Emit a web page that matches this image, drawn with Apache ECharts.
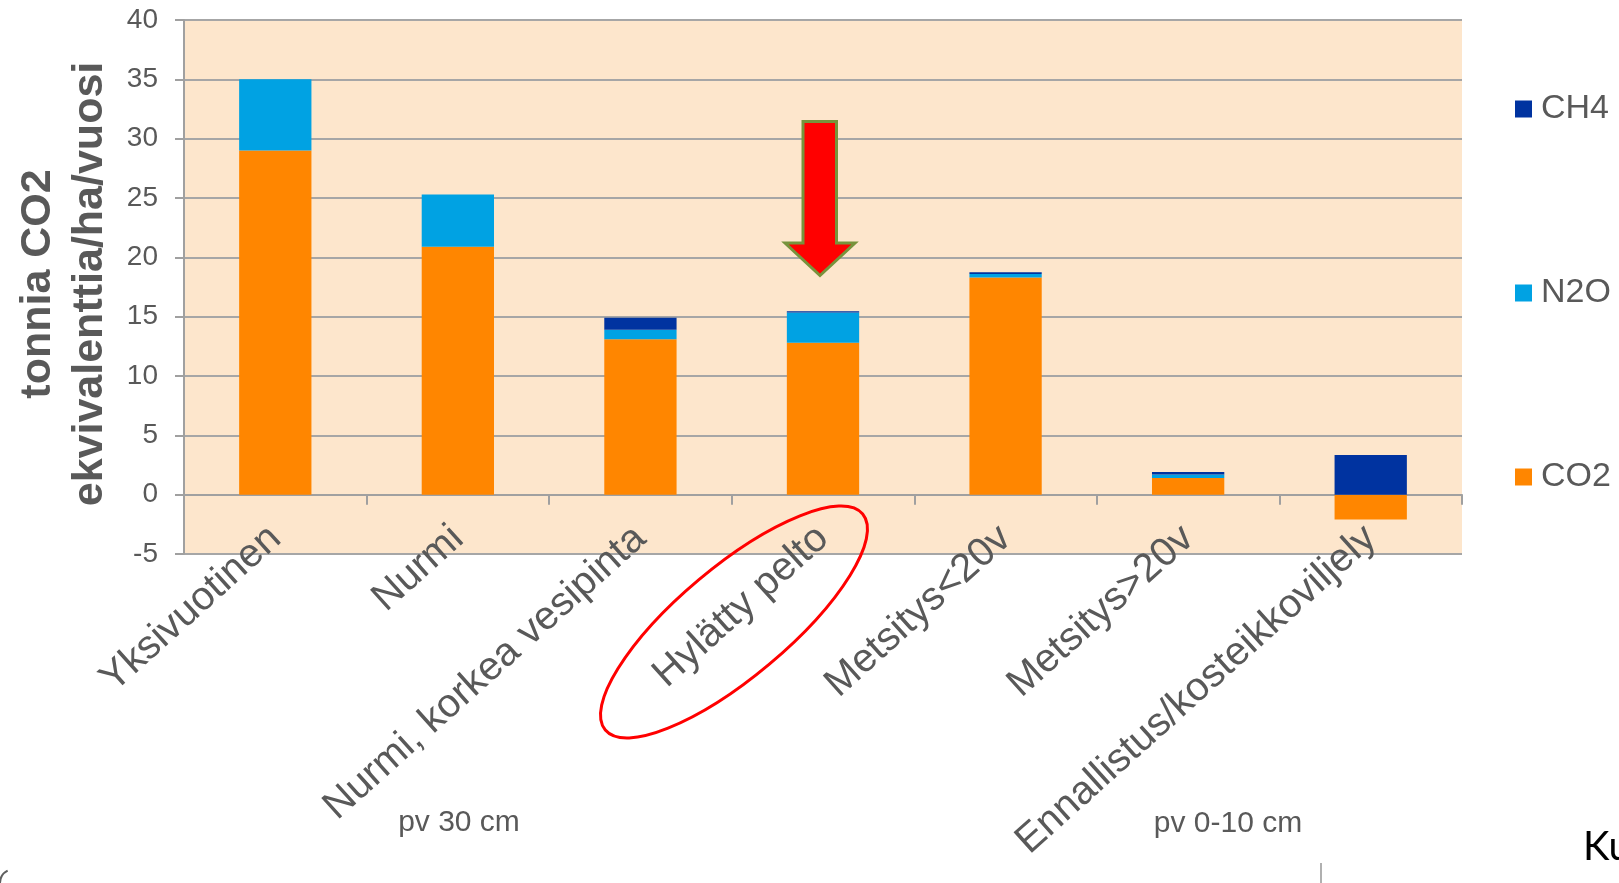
<!DOCTYPE html>
<html>
<head>
<meta charset="utf-8">
<title>Päästöt maankäyttömuodoittain</title>
<script src="https://cdn.jsdelivr.net/npm/echarts@6/dist/echarts.min.js"></script>
<style>
  html, body { margin: 0; padding: 0; background: #ffffff; }
  #chart { width: 1619px; height: 883px; }
</style>
</head>
<body>
<div id="chart"></div>
<script>
// Land-use categories (x axis)
const categories = [
  'Yksivuotinen',
  'Nurmi',
  'Nurmi, korkea vesipinta',
  'Hylätty pelto',
  'Metsitys<20v',
  'Metsitys>20v',
  'Ennallistus/kosteikkoviljely'
];

// Emissions, tonnes CO2-equivalent per hectare per year
const co2 = [29, 20.9, 13.1, 12.8, 18.3, 1.4, -2.1];
const n2o = [6, 4.4, 0.8, 2.55, 0.3, 0.3, 0];
const ch4 = [0, 0, 1.0, 0.1, 0.15, 0.2, 3.35];

// Value axis range and step
const yMin = -5;
const yMax = 40;
const yStep = 5;

const yTitle = 'tonnia CO2\nekvivalenttia/ha/vuosi';
const legendOrder = ['CH4', 'N2O', 'CO2'];

const FONT = '"Liberation Sans", Arial, sans-serif';
const GREY_TEXT = '#595959';
const GRID_LINE = '#A6A6A6';

const chart = echarts.init(document.getElementById('chart'), null, { renderer: 'canvas' });

const option = {
  animation: false,
  backgroundColor: '#ffffff',
  grid: {
    left: 184,
    right: 157,
    top: 20,
    bottom: 329,
    show: true,
    backgroundColor: '#FDE6CC',
    borderWidth: 0,
    containLabel: false,
    outerBoundsMode: 'none'
  },
  legend: {
    data: legendOrder,
    orient: 'vertical',
    left: 1515,
    top: 92,
    padding: 0,
    itemWidth: 17,
    itemHeight: 17,
    itemGap: 150,
    icon: 'rect',
    textStyle: {
      fontFamily: FONT,
      fontSize: 34,
      color: GREY_TEXT,
      padding: [0, 0, 0, 4]
    }
  },
  xAxis: {
    type: 'category',
    data: categories,
    axisLine: { onZero: true, lineStyle: { color: '#A0A0A0', width: 2 } },
    axisTick: { show: true, length: 10, lineStyle: { color: '#A0A0A0', width: 2 } },
    axisLabel: {
      interval: 0,
      rotate: 42,
      margin: -21,
      fontFamily: FONT,
      fontSize: 40,
      color: GREY_TEXT
    },
    splitLine: { show: false }
  },
  yAxis: {
    type: 'value',
    min: yMin,
    max: yMax,
    interval: yStep,
    axisLine: { show: true, lineStyle: { color: '#A0A0A0', width: 2 } },
    axisTick: { show: true, length: 9, lineStyle: { color: '#A0A0A0', width: 2 } },
    axisLabel: {
      margin: 26,
      fontFamily: FONT,
      fontSize: 28,
      color: GREY_TEXT
    },
    splitLine: { show: true, lineStyle: { color: GRID_LINE, width: 2 } }
  },
  series: [
    {
      name: 'CO2',
      type: 'bar',
      stack: 'total',
      barWidth: '39.6%',
      itemStyle: { color: '#FF8600' },
      data: co2
    },
    {
      name: 'N2O',
      type: 'bar',
      stack: 'total',
      barWidth: '39.6%',
      itemStyle: { color: '#00A2E3' },
      data: n2o
    },
    {
      name: 'CH4',
      type: 'bar',
      stack: 'total',
      barWidth: '39.6%',
      itemStyle: { color: '#0033A0' },
      data: ch4
    }
  ],
  graphic: [
    // Vertical axis title (two lines, reading bottom to top)
    {
      type: 'text',
      x: 64,
      y: 284,
      rotation: Math.PI / 2,
      style: {
        text: yTitle,
        font: 'bold 43px ' + FONT,
        fill: GREY_TEXT,
        align: 'center',
        verticalAlign: 'middle',
        lineHeight: 52
      }
    },
    // Drainage depth notes under the category labels
    {
      type: 'text',
      x: 459,
      y: 823,
      style: {
        text: 'pv 30 cm',
        font: '30px ' + FONT,
        fill: GREY_TEXT,
        align: 'center',
        verticalAlign: 'middle'
      }
    },
    {
      type: 'text',
      x: 1228,
      y: 824,
      style: {
        text: 'pv 0-10 cm',
        font: '30px ' + FONT,
        fill: GREY_TEXT,
        align: 'center',
        verticalAlign: 'middle'
      }
    },
    // Red highlight arrow pointing at the abandoned field bar
    {
      type: 'polygon',
      z: 100,
      shape: {
        points: [
          [803, 121.5], [836.5, 121.5], [836.5, 243], [855, 243],
          [820, 275.5], [785, 243], [803, 243]
        ]
      },
      style: { fill: '#FF0000', stroke: '#77933C', lineWidth: 3, lineJoin: 'miter' }
    },
    // Red ellipse around the abandoned field label
    {
      type: 'ellipse',
      z: 100,
      x: 734,
      y: 622,
      rotation: 40 * Math.PI / 180,
      shape: { cx: 0, cy: 0, rx: 168, ry: 55 },
      style: { fill: null, stroke: '#FF0000', lineWidth: 3 }
    },
    // Slide footer fragments
    {
      type: 'text',
      x: 1583,
      y: 847,
      style: {
        text: 'Ku',
        font: '40px Lato, "Open Sans", sans-serif',
        fill: '#000000',
        align: 'left',
        verticalAlign: 'middle'
      }
    },
    {
      type: 'line',
      shape: { x1: 1321, y1: 863, x2: 1321, y2: 883 },
      style: { stroke: '#B0B0B0', lineWidth: 2 }
    },
    {
      type: 'arc',
      shape: { cx: 14, cy: 883, r: 14, startAngle: Math.PI, endAngle: Math.PI * 1.35 },
      style: { stroke: '#606060', lineWidth: 2, fill: null }
    }
  ]
};

chart.setOption(option);
</script>
</body>
</html>
